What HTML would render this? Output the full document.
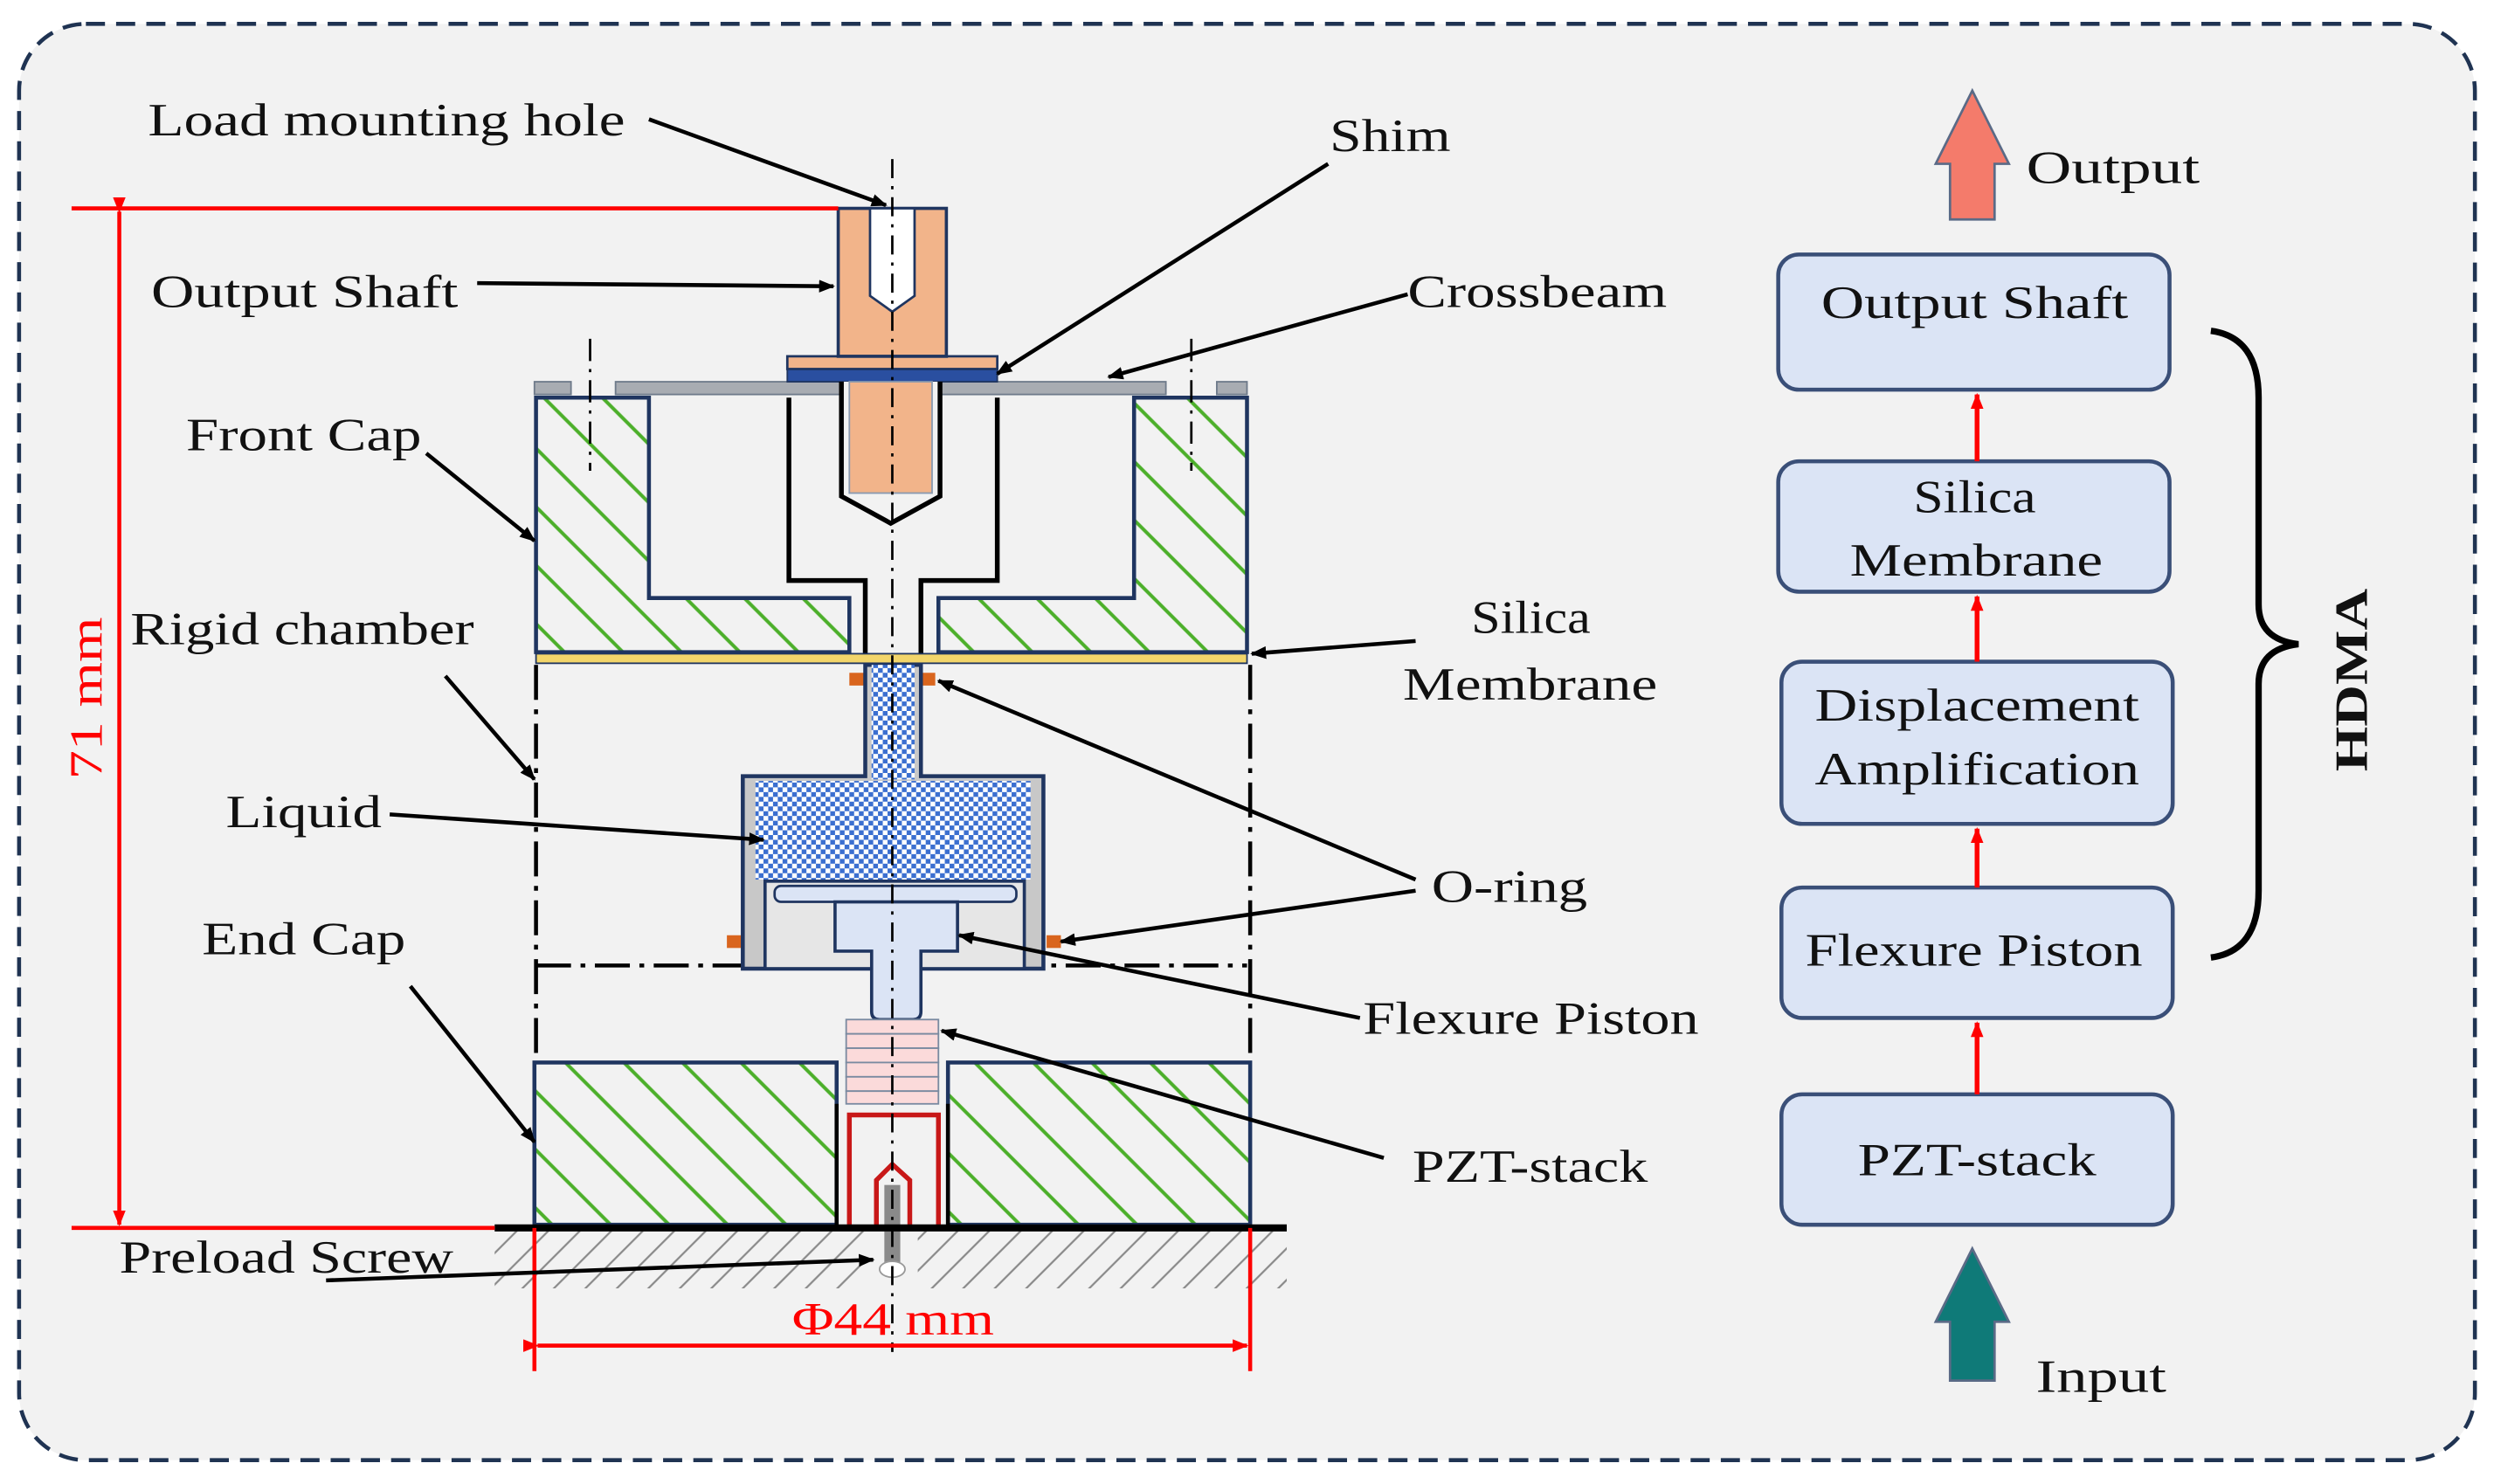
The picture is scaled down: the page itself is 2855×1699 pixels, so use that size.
<!DOCTYPE html>
<html><head><meta charset="utf-8"><style>
html,body{margin:0;padding:0;background:#fff;}
svg{display:block;}
text{font-family:"Liberation Serif",serif;fill:#111;}
</style></head><body>
<svg width="2855" height="1699" viewBox="0 0 1568 933" preserveAspectRatio="none" xmlns="http://www.w3.org/2000/svg">
<defs>
<pattern id="hatch" patternUnits="userSpaceOnUse" width="26" height="26" patternTransform="rotate(-45)">
<line x1="0" y1="0" x2="0" y2="26" stroke="#4caf2a" stroke-width="2.2" transform="translate(13,0)"/>
</pattern>
<pattern id="ghatch" patternUnits="userSpaceOnUse" width="14" height="14" patternTransform="rotate(45)">
<line x1="7" y1="0" x2="7" y2="14" stroke="#888" stroke-width="1.2"/>
</pattern>
<pattern id="dots" patternUnits="userSpaceOnUse" width="6" height="6">
<rect width="6" height="6" fill="#ffffff"/>
<rect x="0" y="0" width="3" height="3" fill="#3b6fd0"/>
<rect x="3" y="3" width="3" height="3" fill="#3b6fd0"/>
</pattern>
<marker id="ah" markerWidth="10" markerHeight="8" refX="9" refY="4" orient="auto" markerUnits="userSpaceOnUse">
<path d="M0,0 L10,4 L0,8 Z" fill="#000"/>
</marker>
<marker id="rah" markerWidth="10" markerHeight="8" refX="9" refY="4" orient="auto" markerUnits="userSpaceOnUse">
<path d="M0,0 L10,4 L0,8 Z" fill="#f00"/>
</marker>
</defs>

<rect x="0" y="0" width="1568" height="933" fill="#ffffff"/>
<rect x="12" y="15" width="1544" height="903" rx="42" fill="#f2f2f2" stroke="#1f3352" stroke-width="2.5" stroke-dasharray="12,7"/>

<rect x="311" y="774" width="498" height="36" fill="url(#ghatch)"/>
<rect x="545" y="774" width="32" height="40" fill="#f2f2f2"/>

<path d="M337,250 H408 V376 H534 V410 H337 Z" fill="url(#hatch)" stroke="#1f3560" stroke-width="2.5"/>
<path d="M713,250 H784 V410 H590 V376 H713 Z" fill="url(#hatch)" stroke="#1f3560" stroke-width="2.5"/>
<path d="M496,250 V365 H544 V412 M579,412 V365 H627 V250" fill="none" stroke="#000" stroke-width="3"/>
<rect x="387" y="240" width="346" height="8" fill="#a8acb2" stroke="#6e7a8a" stroke-width="1"/>
<rect x="336" y="240" width="23" height="8" fill="#a8acb2" stroke="#6e7a8a" stroke-width="1"/>
<rect x="765" y="240" width="19" height="8" fill="#a8acb2" stroke="#6e7a8a" stroke-width="1"/>
<rect x="495" y="232" width="132" height="8" fill="#2a4fa0" stroke="#1f3560" stroke-width="1"/>
<rect x="495" y="224" width="132" height="8" fill="#f2b48a" stroke="#1f3560" stroke-width="1.5"/>
<path d="M529,240 V312 L560,329 L591,312 V240" fill="#f2f2f2" stroke="#000" stroke-width="3"/>
<rect x="534" y="240" width="52" height="70" fill="#f2b48a" stroke="#8a9ab0" stroke-width="1"/>
<rect x="527" y="131" width="68" height="93" fill="#f2b48a" stroke="#1f3560" stroke-width="2"/>
<path d="M547,131 V186 L561,196 L575,186 V131 Z" fill="#fff" stroke="#1f3560" stroke-width="1.5"/>
<rect x="337" y="411" width="447" height="6" fill="#f2d56a" stroke="#1f3560" stroke-width="1"/>
<g stroke="#000" stroke-width="2.5" stroke-dasharray="22,6,3,6" fill="none">
<line x1="337" y1="418" x2="337" y2="668"/>
<line x1="786" y1="418" x2="786" y2="668"/>
<line x1="337" y1="607" x2="784" y2="607"/>
</g>
<g stroke="#000" stroke-width="1.5" stroke-dasharray="14,5,2,5" fill="none">
<line x1="371" y1="213" x2="371" y2="296"/>
<line x1="749" y1="213" x2="749" y2="296"/>
</g>
<rect x="534" y="423" width="9" height="8" fill="#d9651e"/>
<rect x="579" y="423" width="9" height="8" fill="#d9651e"/>
<rect x="457" y="588" width="9" height="8" fill="#d9651e"/>
<rect x="658" y="588" width="9" height="8" fill="#d9651e"/>
<path d="M544,418 V488 H467 V609 H656 V488 H579 V418 Z" fill="#c8c8c8" stroke="#1f3560" stroke-width="2.5"/>
<rect x="548" y="418" width="27" height="72" fill="url(#dots)"/>
<rect x="475" y="491" width="173" height="62" fill="url(#dots)"/>
<rect x="481" y="554" width="163" height="55" fill="#e6e6e6" stroke="#1f3560" stroke-width="2"/>
<rect x="487" y="557" width="152" height="10" rx="4" fill="#dbe4f5" stroke="#1f3560" stroke-width="1.5"/>
<path d="M525,567 H602 V598 H579 V636 Q579,641 574,641 H553 Q548,641 548,636 V598 H525 Z" fill="#dbe4f5" stroke="#1f3560" stroke-width="2"/>
<g fill="#fbdada" stroke="#7a8aa0" stroke-width="1">
<rect x="532" y="641" width="58" height="9"/><rect x="532" y="650" width="58" height="9"/>
<rect x="532" y="659" width="58" height="9"/><rect x="532" y="668" width="58" height="9"/>
<rect x="532" y="677" width="58" height="9"/><rect x="532" y="686" width="58" height="8"/>
</g>
<rect x="336" y="668" width="190" height="102" fill="url(#hatch)" stroke="#1f3560" stroke-width="2.5"/>
<rect x="596" y="668" width="190" height="102" fill="url(#hatch)" stroke="#1f3560" stroke-width="2.5"/>
<line x1="526" y1="694" x2="526" y2="770" stroke="#000" stroke-width="2.5"/>
<line x1="596" y1="694" x2="596" y2="770" stroke="#000" stroke-width="2.5"/>
<path d="M534,770 V701 H590 V770" fill="none" stroke="#c81818" stroke-width="3"/>
<path d="M551,770 V742 L561,732 L572,742 V770" fill="none" stroke="#c81818" stroke-width="3"/>
<rect x="556" y="745" width="10" height="50" fill="#8a8a8a"/>
<ellipse cx="561" cy="798" rx="8" ry="5" fill="#fff" stroke="#999" stroke-width="1"/>
<line x1="311" y1="772" x2="809" y2="772" stroke="#000" stroke-width="4.5"/>
<line x1="561" y1="100" x2="561" y2="850" stroke="#000" stroke-width="1.5" stroke-dasharray="12,5,2,5"/>

<g stroke="#f00" stroke-width="2.5" fill="none">
<line x1="45" y1="131" x2="527" y2="131"/>
<line x1="45" y1="772" x2="311" y2="772"/>
<line x1="75" y1="133" x2="75" y2="770" marker-start="url(#rah)" marker-end="url(#rah)"/>
<line x1="336" y1="772" x2="336" y2="862"/>
<line x1="786" y1="772" x2="786" y2="862"/>
<line x1="338" y1="846" x2="784" y2="846" marker-start="url(#rah)" marker-end="url(#rah)"/>
</g>
<text x="498" y="839" font-size="29" textLength="127" lengthAdjust="spacingAndGlyphs" style="fill:#f00">Φ44 mm</text>
<text transform="translate(64,490) rotate(-90)" x="0" y="0" font-size="29" textLength="102" lengthAdjust="spacingAndGlyphs" style="fill:#f00">71 mm</text>

<g stroke="#000" stroke-width="2.5" fill="none" marker-end="url(#ah)">
<line x1="408" y1="75" x2="557" y2="129"/>
<line x1="835" y1="103" x2="627" y2="235"/>
<line x1="300" y1="178" x2="524" y2="180"/>
<line x1="885" y1="185" x2="697" y2="237"/>
<line x1="268" y1="285" x2="336" y2="340"/>
<line x1="890" y1="403" x2="787" y2="411"/>
<line x1="280" y1="425" x2="336" y2="490"/>
<line x1="245" y1="512" x2="480" y2="528"/>
<line x1="890" y1="553" x2="590" y2="428"/>
<line x1="890" y1="560" x2="667" y2="592"/>
<line x1="258" y1="620" x2="336" y2="718"/>
<line x1="855" y1="640" x2="603" y2="588"/>
<line x1="870" y1="728" x2="592" y2="648"/>
<line x1="205" y1="805" x2="549" y2="792"/>
</g>

<g font-size="29">
<text x="93" y="85" textLength="300" lengthAdjust="spacingAndGlyphs">Load mounting hole</text>
<text x="836" y="95" textLength="76" lengthAdjust="spacingAndGlyphs">Shim</text>
<text x="95" y="193" textLength="193" lengthAdjust="spacingAndGlyphs">Output Shaft</text>
<text x="885" y="193" textLength="163" lengthAdjust="spacingAndGlyphs">Crossbeam</text>
<text x="117" y="283" textLength="148" lengthAdjust="spacingAndGlyphs">Front Cap</text>
<text x="925" y="398" textLength="75" lengthAdjust="spacingAndGlyphs">Silica</text>
<text x="882" y="440" textLength="160" lengthAdjust="spacingAndGlyphs">Membrane</text>
<text x="82" y="405" textLength="216" lengthAdjust="spacingAndGlyphs">Rigid chamber</text>
<text x="142" y="520" textLength="98" lengthAdjust="spacingAndGlyphs">Liquid</text>
<text x="900" y="567" textLength="98" lengthAdjust="spacingAndGlyphs">O-ring</text>
<text x="127" y="600" textLength="128" lengthAdjust="spacingAndGlyphs">End Cap</text>
<text x="857" y="650" textLength="211" lengthAdjust="spacingAndGlyphs">Flexure Piston</text>
<text x="888" y="743" textLength="148" lengthAdjust="spacingAndGlyphs">PZT-stack</text>
<text x="75" y="800" textLength="210" lengthAdjust="spacingAndGlyphs">Preload Screw</text>
<text x="1274" y="115" textLength="109" lengthAdjust="spacingAndGlyphs">Output</text>
<text x="1280" y="875" textLength="82" lengthAdjust="spacingAndGlyphs">Input</text>
</g>

<path d="M1240,57 L1263,103 H1254 V138 H1226 V103 H1217 Z" fill="#f47b6b" stroke="#5a6a86" stroke-width="1.5"/>
<path d="M1240,785 L1263,831 H1254 V868 H1226 V831 H1217 Z" fill="#0f7a78" stroke="#5a6a86" stroke-width="1.5"/>
<g fill="#dbe4f5" stroke="#3a4f78" stroke-width="2.5">
<rect x="1118" y="160" width="246" height="85" rx="13"/>
<rect x="1118" y="290" width="246" height="82" rx="13"/>
<rect x="1120" y="416" width="246" height="102" rx="13"/>
<rect x="1120" y="558" width="246" height="82" rx="13"/>
<rect x="1120" y="688" width="246" height="82" rx="13"/>
</g>
<g stroke="#f00" stroke-width="3" marker-end="url(#rah)">
<line x1="1243" y1="290" x2="1243" y2="248"/>
<line x1="1243" y1="416" x2="1243" y2="375"/>
<line x1="1243" y1="558" x2="1243" y2="521"/>
<line x1="1243" y1="688" x2="1243" y2="643"/>
</g>
<g font-size="29">
<text x="1145" y="200" textLength="193" lengthAdjust="spacingAndGlyphs">Output Shaft</text>
<text x="1203" y="322" textLength="77" lengthAdjust="spacingAndGlyphs">Silica</text>
<text x="1163" y="362" textLength="159" lengthAdjust="spacingAndGlyphs">Membrane</text>
<text x="1141" y="453" textLength="204" lengthAdjust="spacingAndGlyphs">Displacement</text>
<text x="1141" y="493" textLength="204" lengthAdjust="spacingAndGlyphs">Amplification</text>
<text x="1135" y="607" textLength="212" lengthAdjust="spacingAndGlyphs">Flexure Piston</text>
<text x="1168" y="739" textLength="150" lengthAdjust="spacingAndGlyphs">PZT-stack</text>
</g>
<path d="M1390,208 Q1420,212 1420,250 V380 Q1420,402 1445,405 Q1420,408 1420,430 V560 Q1420,598 1390,602" fill="none" stroke="#000" stroke-width="4"/>
<text transform="translate(1488,485) rotate(-90)" font-size="29" font-weight="bold" textLength="115" lengthAdjust="spacingAndGlyphs">HDMA</text>
</svg>
</body></html>
